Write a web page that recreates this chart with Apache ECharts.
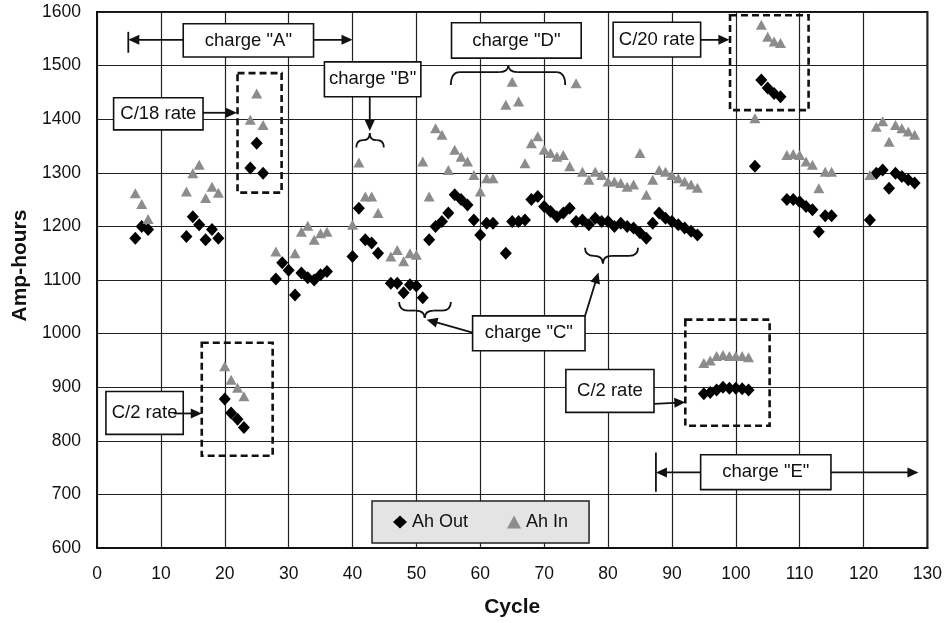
<!DOCTYPE html>
<html><head><meta charset="utf-8">
<script src="https://cdn.jsdelivr.net/npm/echarts@6/dist/echarts.min.js"></script>
<style>html,body{margin:0;padding:0;background:#fff}#c{width:945px;height:623px}</style>
</head><body><div id="c"></div>
<script>
// ---- data ----
const seriesNames = ['Ah Out', 'Ah In'];
const xTickValues = [0,10,20,30,40,50,60,70,80,90,100,110,120,130];
const yTickValues = [600,700,800,900,1000,1100,1200,1300,1400,1500,1600];

const cyclesOut = [6,7,8, 14,15,16,17,18,19, 20,21,22,23, 24,25,26,
  28,29,30,31,32,33,34,35,36, 40,41,42,43,44, 46,47,48,49,50,51,
  52,53,54,55,56,57,58,59,60,61,62, 64,65,66,67,68,69,70,71,72,73,74,75,76,77,78,79,80,81,82,83,84,85,86,87,88,89,90,91,92,93,94,
  95,96,97,98,99,100,101,102, 103,104,105,106,107, 108,109,110,111,112,113,114,115,
  121,122,123,124,125,126,127,128];
const ahOut = [1178,1200,1194, 1181,1218,1203,1175,1194,1178, 878,852,840,825, 1309,1355,1299,
  1102,1132,1118,1072,1113,1104,1100,1110,1116, 1144,1234,1175,1169,1150, 1094,1094,1076,1091,1089,1067,
  1175,1200,1209,1225,1259,1250,1240,1212,1184,1206,1206, 1150,1209,1209,1212,1250,1256,1237,1228,1218,1225,1234,1209,1212,1203,1215,1209,1209,1200,1206,1200,1197,1188,1178,1206,1225,1215,1209,1203,1197,1191,1184,
  888,890,895,900,898,898,897,895, 1312,1473,1458,1448,1442, 1250,1250,1246,1237,1231,1190,1220,1220,
  1212,1299,1305,1271,1299,1293,1287,1281];

const cyclesIn = [6,7,8, 14,15,16,17,18,19, 20,21,22,23, 24,25,26,
  28,31,32,33,34,35,36, 40,41,42,43,44, 46,47,48,49,50,
  51,52,53,54,55,56,57,58,59,60,61,62, 64,65,66,67,68,69,70,71,72,73,74,75,76,77,78,79,80,81,82,83,84,85,86,87,88,89,90,91,92,93,94,
  95,96,97,98,99,100,101,102, 103,104,105,106,107, 108,109,110,111,112,113,114,115,
  121,122,123,124,125,126,127,128];
const ahIn = [1262,1242,1214, 1265,1299,1315,1253,1274,1263, 939,914,899,883, 1399,1448,1389,
  1153,1150,1190,1201,1175,1187,1190, 1203,1319,1256,1256,1225, 1144,1156,1135,1150,1147,
  1321,1256,1383,1371,1305,1343,1330,1321,1296,1265,1290,1290, 1427,1470,1433,1318,1355,1368,1343,1337,1330,1333,1312,1467,1302,1287,1302,1296,1284,1284,1281,1274,1278,1337,1259,1287,1305,1302,1296,1290,1284,1278,1272,
  945,950,958,960,958,958,958,956, 1402,1576,1554,1545,1542, 1333,1335,1333,1321,1315,1271,1302,1302,
  1296,1386,1396,1358,1389,1383,1377,1371];

// ---- chart ----
const FONT = '"Liberation Sans", Arial, sans-serif';
const chart = echarts.init(document.getElementById('c'), null, {renderer: 'canvas'});

const option = {
  animation: false,
  backgroundColor: '#ffffff',
  grid: {left: 97, right: 14, top: 12, bottom: 75, show: true, borderColor: '#111', borderWidth: 2, containLabel: false},
  xAxis: {
    type: 'value', min: xTickValues[0], max: xTickValues[xTickValues.length-1], interval: 10,
    name: 'Cycle', nameLocation: 'middle', nameGap: 49,
    nameTextStyle: {fontFamily: FONT, fontWeight: 'bold', fontSize: 21, color: '#111'},
    axisLine: {show: true, lineStyle: {color: '#111', width: 2}},
    axisTick: {show: false},
    axisLabel: {margin: 17, fontFamily: FONT, fontSize: 17.5, color: '#111', formatter: v => String(v)},
    splitLine: {show: true, lineStyle: {color: '#222', width: 1.2}}
  },
  yAxis: {
    type: 'value', min: yTickValues[0], max: yTickValues[yTickValues.length-1], interval: 100,
    axisLine: {show: true, lineStyle: {color: '#111', width: 2}},
    axisTick: {show: false},
    axisLabel: {margin: 16, fontFamily: FONT, fontSize: 17.5, color: '#111', formatter: v => String(v)},
    splitLine: {show: true, lineStyle: {color: '#222', width: 1.2}}
  },
  legend: {
    show: true, left: 372, top: 501, orient: 'horizontal',
    padding: [12, 21, 12, 21], itemGap: 39, itemWidth: 14, itemHeight: 13,
    backgroundColor: '#e4e4e4', borderColor: '#222', borderWidth: 1.5,
    textStyle: {fontFamily: FONT, fontSize: 18, color: '#111'},
    data: seriesNames, z: 20
  },
  series: [
    {name: seriesNames[0], type: 'scatter', symbol: 'diamond', symbolSize: [12, 13],
     itemStyle: {color: '#000', opacity: 1}, z: 3,
     data: cyclesOut.map((c, i) => [c, ahOut[i]])},
    {name: seriesNames[1], type: 'scatter', symbol: 'triangle', symbolSize: [11, 10],
     itemStyle: {color: '#8c8c8c', opacity: 1}, z: 4,
     data: cyclesIn.map((c, i) => [c, ahIn[i]])}
  ]
};
chart.setOption(option);

// ---- annotations, positioned in data units through the chart's scales ----
function P(x, y) { return chart.convertToPixel({gridIndex: 0}, [x, y]); }
const g = [];
const INK = '#111';
function box(x1, y1, x2, y2, text) {
  const a = P(x1, y1), b = P(x2, y2);
  g.push({type: 'rect', z: 100,
    shape: {x: Math.min(a[0], b[0]), y: Math.min(a[1], b[1]), width: Math.abs(b[0]-a[0]), height: Math.abs(b[1]-a[1])},
    style: {fill: '#fff', stroke: INK, lineWidth: 1.6}});
  g.push({type: 'text', z: 103, x: (a[0]+b[0])/2, y: (a[1]+b[1])/2,
    style: {text: text, fontFamily: FONT, fontSize: 18.5, fill: INK, align: 'center', verticalAlign: 'middle',
            textAlign: 'center', textVerticalAlign: 'middle'}});
}
function dashed(x1, y1, x2, y2) {
  const a = P(x1, y1), b = P(x2, y2);
  g.push({type: 'rect', z: 90,
    shape: {x: Math.min(a[0], b[0]), y: Math.min(a[1], b[1]), width: Math.abs(b[0]-a[0]), height: Math.abs(b[1]-a[1])},
    style: {fill: 'none', stroke: INK, lineWidth: 2.6, lineDash: [7, 4]}});
}
function seg(x1, y1, x2, y2) {
  const a = P(x1, y1), b = P(x2, y2);
  g.push({type: 'line', z: 102, shape: {x1: a[0], y1: a[1], x2: b[0], y2: b[1]}, style: {stroke: INK, lineWidth: 1.8}});
}
function arrow(x1, y1, x2, y2) {
  const a = P(x1, y1), b = P(x2, y2);
  const dx = b[0]-a[0], dy = b[1]-a[1], len = Math.hypot(dx, dy);
  const ux = dx/len, uy = dy/len, L = 11, W = 5;
  g.push({type: 'line', z: 102, shape: {x1: a[0], y1: a[1], x2: b[0]-ux*L*0.6, y2: b[1]-uy*L*0.6}, style: {stroke: INK, lineWidth: 1.8}});
  g.push({type: 'polygon', z: 102, shape: {points: [[b[0], b[1]],
    [b[0]-ux*L - uy*W, b[1]-uy*L + ux*W], [b[0]-ux*L + uy*W, b[1]-uy*L - ux*W]]}, style: {fill: INK}});
}
function brace(xL, xR, xm, yBar, yEnd, yCusp) {
  const L = P(xL, yEnd), R = P(xR, yEnd), M = P(xm, yCusp), bar = P(xL, yBar)[1];
  const r = Math.min(9, (M[0]-L[0])/2, (R[0]-M[0])/2);
  const st = {stroke: INK, lineWidth: 1.8, fill: 'none'};
  g.push({type: 'bezierCurve', z: 102, shape: {x1: L[0], y1: L[1], x2: L[0]+r, y2: bar, cpx1: L[0], cpy1: bar}, style: st});
  g.push({type: 'line', z: 102, shape: {x1: L[0]+r, y1: bar, x2: M[0]-r, y2: bar}, style: st});
  g.push({type: 'bezierCurve', z: 102, shape: {x1: M[0]-r, y1: bar, x2: M[0], y2: M[1], cpx1: M[0], cpy1: bar}, style: st});
  g.push({type: 'bezierCurve', z: 102, shape: {x1: M[0], y1: M[1], x2: M[0]+r, y2: bar, cpx1: M[0], cpy1: bar}, style: st});
  g.push({type: 'line', z: 102, shape: {x1: M[0]+r, y1: bar, x2: R[0]-r, y2: bar}, style: st});
  g.push({type: 'bezierCurve', z: 102, shape: {x1: R[0]-r, y1: bar, x2: R[0], y2: R[1], cpx1: R[0], cpy1: bar}, style: st});
}

// charge "A"
box(13.5, 1578, 33.9, 1516, 'charge "A"');
seg(4.9, 1563, 4.9, 1524);
arrow(13.5, 1548, 4.9, 1548);
arrow(33.9, 1548, 40, 1548);
// C/18 rate
box(2.6, 1440, 16.6, 1380, 'C/18 rate');
arrow(16.6, 1412, 21.9, 1412);
dashed(22.0, 1486, 28.9, 1263);
// charge "B"
box(35.6, 1507, 50.7, 1442, 'charge "B"');
arrow(42.7, 1442, 42.7, 1378);
brace(40.6, 44.9, 42.7, 1361, 1347, 1374);
// charge "D"
box(55.5, 1580, 75.8, 1514, 'charge "D"');
brace(55.4, 73.3, 64.4, 1488, 1464, 1501);
// C/20 rate
box(80.8, 1581, 94.5, 1516, 'C/20 rate');
arrow(94.5, 1548, 99.0, 1548);
dashed(99.1, 1594, 111.4, 1417);
// charge "C"
brace(47.3, 55.4, 51.3, 1043, 1059, 1029);
brace(76.4, 84.7, 79.2, 1145, 1160, 1131);
box(58.8, 1033, 76.4, 968, 'charge "C"');
arrow(58.8, 1002, 51.6, 1026);
arrow(76.4, 1033, 78.5, 1114);
// C/2 rate (left)
box(1.4, 892, 13.5, 812, 'C/2 rate');
arrow(12.0, 851, 16.4, 851);
dashed(16.4, 983, 27.5, 772);
// C/2 rate (right)
box(73.4, 933, 87.2, 853, 'C/2 rate');
arrow(87.2, 869, 92.1, 872);
dashed(92.1, 1026, 105.3, 828);
// charge "E"
box(94.5, 774, 114.9, 709, 'charge "E"');
seg(87.5, 778, 87.5, 705);
arrow(94.5, 741, 87.5, 741);
arrow(114.9, 741, 128.6, 741);

// y axis title
const yc = P(0, 1127)[1];
g.push({type: 'text', z: 103, x: 20, y: yc, rotation: Math.PI/2,
  style: {text: 'Amp-hours', fontFamily: FONT, fontWeight: 'bold', fontSize: 21, fill: INK,
          align: 'center', verticalAlign: 'middle', textAlign: 'center', textVerticalAlign: 'middle'}});

chart.setOption({graphic: {elements: g}});
</script></body></html>
